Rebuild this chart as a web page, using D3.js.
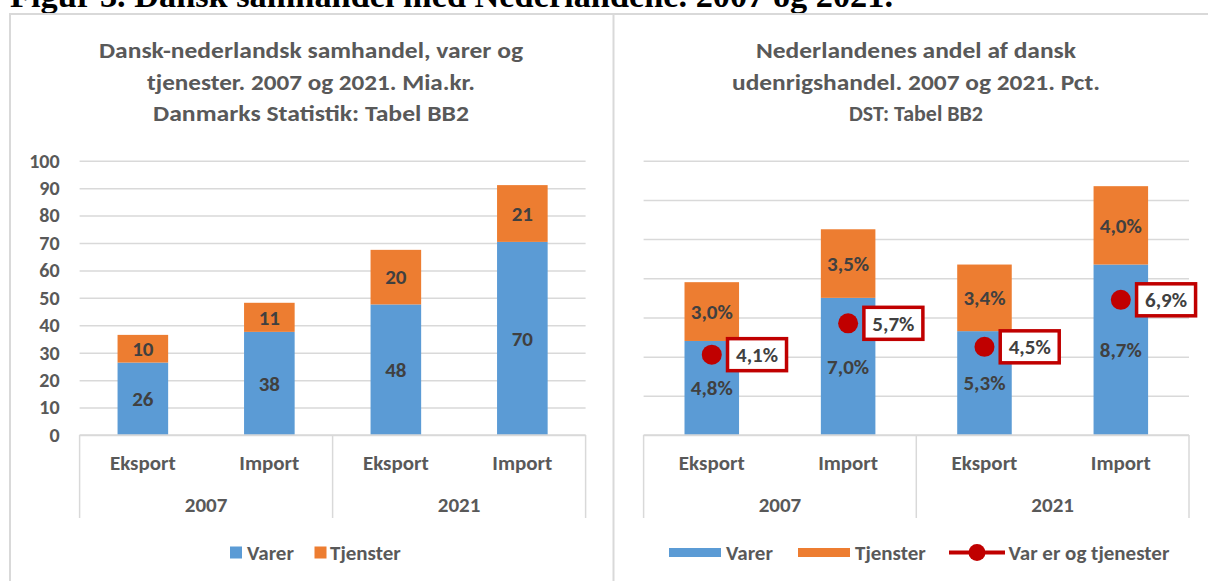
<!DOCTYPE html>
<meta charset="utf-8">
<style>
body { margin: 0; background: #fff; }
svg text { font-family: Carlito, Calibri, Lato, sans-serif; font-weight: 700; }
.grid line { stroke: #d9d9d9; stroke-width: 1.5; }
.grid path { display: none; }
</style>
<body>
<script src="https://cdn.jsdelivr.net/npm/d3@7"></script>
<script>
// data
var categories = ["Eksport", "Import", "Eksport", "Import"];
var years = ["2007", "2021"];
var samhandelVarer = [26.4, 37.6, 47.6, 70.4];      // mia.kr.
var samhandelTjenester = [10.1, 10.6, 19.9, 20.7];
var andelVarer = [4.8, 7.0, 5.3, 8.7];              // pct.
var andelTjenester = [3.0, 3.5, 3.4, 4.0];
var andelSamlet = [4.1, 5.7, 4.5, 6.9];
var leftTicks = [0, 10, 20, 30, 40, 50, 60, 70, 80, 90, 100];
var rightTicks = [0, 2, 4, 6, 8, 10, 12, 14];

var blue = "#5b9bd5", orange = "#ed7d31", red = "#c00000",
    axisGrey = "#595959", labelGrey = "#404040", lineGrey = "#d9d9d9";

var svg = d3.select("body").append("svg")
    .attr("width", 1208)
    .attr("height", 581);

// figure heading (cut at the top in the original)
svg.append("text")
    .attr("x", 10)
    .attr("y", 7)
    .style("font-family", "'Liberation Serif', 'Times New Roman', serif")
    .style("font-size", "34px")
    .style("fill", "#000")
    .attr("textLength", 883)
    .attr("lengthAdjust", "spacingAndGlyphs")
    .text("Figur 3. Dansk samhandel med Nederlandene. 2007 og 2021.");

// panel frames
svg.append("line").attr("x1", 10).attr("x2", 1208).attr("y1", 14).attr("y2", 14)
    .style("stroke", lineGrey).style("stroke-width", 2);
svg.append("line").attr("x1", 10).attr("x2", 10).attr("y1", 13).attr("y2", 581)
    .style("stroke", lineGrey).style("stroke-width", 2);
svg.append("line").attr("x1", 613.5).attr("x2", 613.5).attr("y1", 13).attr("y2", 581)
    .style("stroke", lineGrey).style("stroke-width", 2);

function title(lines, cx, widths) {
  lines.forEach(function(t, i) {
    svg.append("text")
        .attr("x", cx)
        .attr("y", 58 + i * 31.5)
        .attr("text-anchor", "middle")
        .style("font-size", "23px")
        .style("fill", axisGrey)
        .attr("textLength", widths[i])
        .attr("lengthAdjust", "spacingAndGlyphs")
        .text(t);
  });
}

title(["Dansk-nederlandsk samhandel, varer og", "tjenester. 2007 og 2021. Mia.kr.", "Danmarks Statistik: Tabel BB2"],
      311, [424, 328, 316]);
title(["Nederlandenes andel af dansk", "udenrigshandel. 2007 og 2021. Pct.", "DST: Tabel BB2"],
      916, [320, 368, 134]);

function panel(opt) {
  var x = d3.scaleBand().domain(d3.range(categories.length))
      .range([opt.x0, opt.x1]).paddingInner(0.6).paddingOuter(0.3);
  var y = d3.scaleLinear().domain([0, opt.max]).range([435, 160.7]);
  var w = opt.x1 - opt.x0;

  // gridlines
  svg.append("g")
      .attr("class", "grid")
      .attr("transform", "translate(" + opt.x0 + ",0)")
      .call(d3.axisLeft(y).tickValues(opt.ticks).tickSize(-w).tickFormat(""));

  if (opt.yLabels) {
    var ya = svg.append("g")
        .attr("transform", "translate(" + opt.x0 + ",0)")
        .call(d3.axisLeft(y).tickValues(opt.ticks).tickSize(0).tickPadding(20));
    ya.select(".domain").remove();
    ya.selectAll("text")
        .style("font-size", "20px")
        .style("fill", axisGrey);
  }

  var stack = opt.varer.map(function(v, i) {
    return [{y0: 0, y1: v, v: v, c: blue},
            {y0: v, y1: v + opt.tjenester[i], v: opt.tjenester[i], c: orange}];
  });

  var bars = svg.selectAll(null)
      .data(stack)
    .enter().append("g")
      .attr("transform", function(d, i) { return "translate(" + x(i) + ",0)"; });

  bars.selectAll("rect")
      .data(function(d) { return d; })
    .enter().append("rect")
      .attr("x", 0)
      .attr("width", x.bandwidth())
      .attr("y", function(d) { return y(d.y1); })
      .attr("height", function(d) { return y(d.y0) - y(d.y1); })
      .style("fill", function(d) { return d.c; });

  bars.selectAll("text")
      .data(function(d) { return d; })
    .enter().append("text")
      .attr("x", x.bandwidth() / 2)
      .attr("y", function(d) { return (y(d.y0) + y(d.y1)) / 2; })
      .attr("dy", "0.35em")
      .attr("text-anchor", "middle")
      .style("font-size", "21px")
      .style("fill", labelGrey)
      .text(function(d) { return opt.fmt(d.v); });

  // category axis
  svg.append("line")
      .attr("x1", opt.x0).attr("x2", opt.x1).attr("y1", 435).attr("y2", 435)
      .style("stroke", lineGrey).style("stroke-width", 1.5);
  var xa = svg.append("g")
      .attr("transform", "translate(0,435)")
      .call(d3.axisBottom(x).tickSize(0).tickPadding(20)
        .tickFormat(function(i) { return categories[i]; }));
  xa.select(".domain").remove();
  xa.selectAll("text")
      .style("font-size", "21px")
      .style("fill", axisGrey);

  var mid = (opt.x0 + opt.x1) / 2;
  [opt.x0, mid, opt.x1].forEach(function(px) {
    svg.append("line")
        .attr("x1", px).attr("x2", px).attr("y1", 435).attr("y2", 518)
        .style("stroke", lineGrey).style("stroke-width", 1.5);
  });
  years.forEach(function(yr, j) {
    svg.append("text")
        .attr("x", (x(j * 2) + x(j * 2 + 1) + x.bandwidth()) / 2)
        .attr("y", 505)
        .attr("dy", "0.35em")
        .attr("text-anchor", "middle")
        .style("font-size", "21px")
        .style("fill", axisGrey)
        .text(yr);
  });

  return {x: x, y: y};
}

var fmtKr = function(v) { return d3.format(".0f")(v); };
var fmtPct = function(v) { return d3.format(".1f")(v).replace(".", ",") + "%"; };

panel({x0: 79.6, x1: 585.6, max: 100, ticks: leftTicks, yLabels: true,
       varer: samhandelVarer, tjenester: samhandelTjenester, fmt: fmtKr});

var r = panel({x0: 643.6, x1: 1189, max: 14, ticks: rightTicks, yLabels: false,
       varer: andelVarer, tjenester: andelTjenester, fmt: fmtPct});

// total share markers with boxed labels
var marks = svg.selectAll(".mark")
    .data(andelSamlet)
  .enter().append("g")
    .attr("class", "mark")
    .attr("transform", function(d, i) {
      return "translate(" + (r.x(i) + r.x.bandwidth() / 2) + "," + r.y(d) + ")";
    });

marks.append("circle")
    .attr("r", 10)
    .style("fill", red);

marks.append("rect")
    .attr("x", 15.75)
    .attr("y", -16)
    .attr("width", 59)
    .attr("height", 32)
    .style("fill", "#fff")
    .style("stroke", red)
    .style("stroke-width", 3.5);

marks.append("text")
    .attr("x", 45.25)
    .attr("dy", "0.35em")
    .attr("text-anchor", "middle")
    .style("font-size", "21px")
    .style("fill", labelGrey)
    .text(fmtPct);

// legends
function legendText(x, t) {
  svg.append("text")
      .attr("x", x).attr("y", 552.5).attr("dy", "0.35em")
      .style("font-size", "21px")
      .style("fill", axisGrey)
      .text(t);
}

svg.append("rect").attr("x", 230).attr("y", 546.5).attr("width", 12).attr("height", 12).style("fill", blue);
legendText(247, "Varer");
svg.append("rect").attr("x", 314.5).attr("y", 546.5).attr("width", 12).attr("height", 12).style("fill", orange);
legendText(330, "Tjenster");

svg.append("rect").attr("x", 669).attr("y", 548).attr("width", 52).attr("height", 9).style("fill", blue);
legendText(726, "Varer");
svg.append("rect").attr("x", 798).attr("y", 548).attr("width", 52).attr("height", 9).style("fill", orange);
legendText(855, "Tjenster");
svg.append("line").attr("x1", 949).attr("x2", 1005).attr("y1", 552.5).attr("y2", 552.5)
    .style("stroke", red).style("stroke-width", 4);
svg.append("circle").attr("cx", 977).attr("cy", 552.5).attr("r", 8.5).style("fill", red);
legendText(1008.5, "Var er og tjenester");
</script>
</body>
